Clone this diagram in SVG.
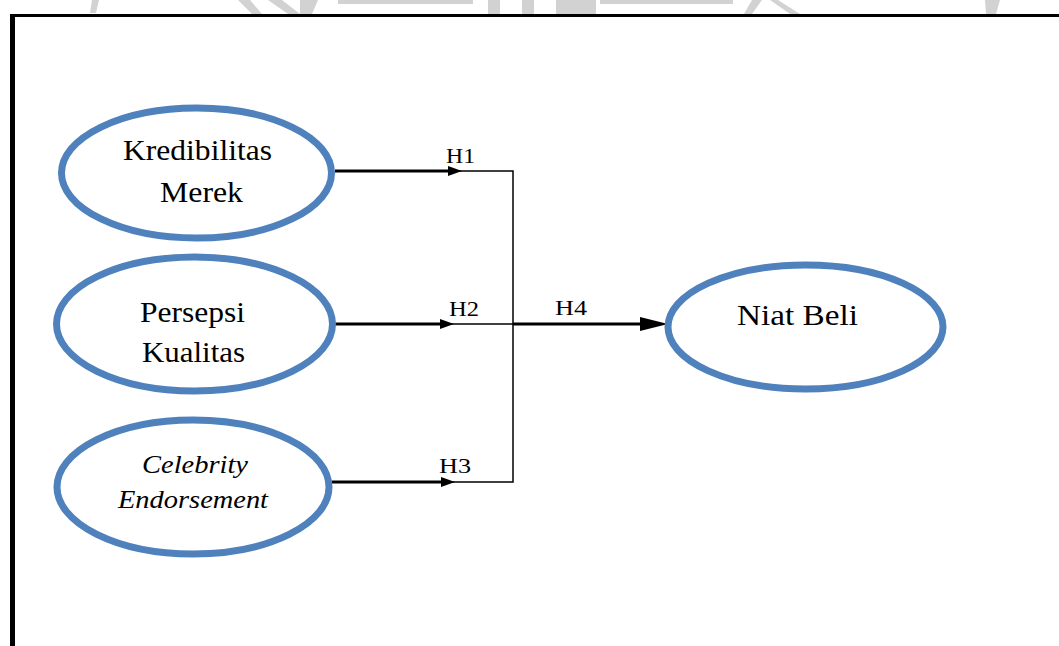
<svg xmlns="http://www.w3.org/2000/svg" width="1059" height="646" viewBox="0 0 1059 646">
  <style>
    .node ellipse { fill: #ffffff; stroke: #4f81bd; stroke-width: 7; }
    .lbl { font-family: "Liberation Serif", "Times New Roman", serif; fill: #000000; text-anchor: middle; }
    .hl { font-family: "Liberation Serif", "Times New Roman", serif; font-size: 22px; fill: #000000; }
    .thick { stroke: #000000; stroke-width: 3; fill: none; }
    .thin { stroke: #000000; stroke-width: 1.5; fill: none; }
    .wm { fill: #d2d2d2; }
  </style>
  <defs>
    <marker id="arr" viewBox="0 0 14 10" refX="0" refY="5" markerWidth="14" markerHeight="10" markerUnits="userSpaceOnUse" orient="auto">
      <path d="M0,0 L14,5 L0,10 z" fill="#000000"/>
    </marker>
    <marker id="arrBig" viewBox="0 0 28 14" refX="0" refY="7" markerWidth="28" markerHeight="14" markerUnits="userSpaceOnUse" orient="auto">
      <path d="M0,0 L28,7 L0,14 z" fill="#000000"/>
    </marker>
  </defs>
  <rect x="0" y="0" width="1059" height="646" fill="#ffffff"/>

  <!-- faint watermark fragments at the top -->
  <g id="watermark">
    <path class="wm" d="M92,0 L99,0 L96,13 L90,13 z"/>
    <path class="wm" d="M238,0 L250,0 L262,14 L252,14 z"/>
    <path class="wm" d="M268,0 L282,0 L300,14 L288,14 z"/>
    <path class="wm" d="M300,0 L318,0 L312,14 L300,14 z"/>
    <rect class="wm" x="338" y="0" width="135" height="4"/>
    <rect class="wm" x="488" y="0" width="12" height="14"/>
    <rect class="wm" x="522" y="0" width="12" height="14"/>
    <rect class="wm" x="556" y="0" width="40" height="14"/>
    <rect class="wm" x="600" y="0" width="133" height="4"/>
    <path class="wm" d="M752,0 L762,0 L752,14 L744,14 z"/>
    <path class="wm" d="M770,0 L778,0 L800,14 L790,14 z"/>
    <path class="wm" d="M985,0 L1000,0 L996,14 L986,14 z"/>
  </g>

  <!-- frame -->
  <g id="frame">
    <line x1="12.5" y1="15.5" x2="12.5" y2="646" stroke="#000000" stroke-width="5"/>
    <line x1="10" y1="15.5" x2="1059" y2="15.5" stroke="#000000" stroke-width="3"/>
  </g>

  <g id="connectors">
    <line class="thick" x1="335" y1="171" x2="448" y2="171" marker-end="url(#arr)"/>
    <polyline class="thin" points="448,171 513,171 513,482 448,482"/>
    <line class="thick" x1="335" y1="324" x2="440" y2="324" marker-end="url(#arr)"/>
    <line class="thin" x1="440" y1="324" x2="513" y2="324"/>
    <line class="thick" x1="332" y1="482" x2="441" y2="482" marker-end="url(#arr)"/>
    <line class="thick" x1="513" y1="324" x2="640" y2="324" marker-end="url(#arrBig)"/>
    <text class="hl" x="446" y="163" textLength="29" lengthAdjust="spacingAndGlyphs">H1</text>
    <text class="hl" x="449" y="316" textLength="30" lengthAdjust="spacingAndGlyphs">H2</text>
    <text class="hl" x="439" y="473" textLength="32" lengthAdjust="spacingAndGlyphs">H3</text>
    <text class="hl" x="555" y="315" textLength="32" lengthAdjust="spacingAndGlyphs">H4</text>
  </g>

  <g id="node-kredibilitas" class="node">
    <ellipse cx="196.5" cy="173" rx="135" ry="65"/>
    <text class="lbl" font-family="Liberation Serif, serif" x="197.5" y="160" font-size="29" textLength="149" lengthAdjust="spacingAndGlyphs">Kredibilitas</text>
    <text class="lbl" font-family="Liberation Serif, serif" x="201.5" y="202" font-size="29" textLength="83" lengthAdjust="spacingAndGlyphs">Merek</text>
  </g>

  <g id="node-persepsi" class="node">
    <ellipse cx="194.5" cy="324" rx="138" ry="67"/>
    <text class="lbl" font-family="Liberation Serif, serif" x="192.5" y="322" font-size="30" textLength="105" lengthAdjust="spacingAndGlyphs">Persepsi</text>
    <text class="lbl" font-family="Liberation Serif, serif" x="193.5" y="362" font-size="30" textLength="103" lengthAdjust="spacingAndGlyphs">Kualitas</text>
  </g>

  <g id="node-celebrity" class="node">
    <ellipse cx="193" cy="487" rx="136" ry="67"/>
    <text class="lbl" font-family="Liberation Serif, serif" x="195" y="473" font-size="25" font-style="italic" textLength="106" lengthAdjust="spacingAndGlyphs">Celebrity</text>
    <text class="lbl" font-family="Liberation Serif, serif" x="193" y="508" font-size="25" font-style="italic" textLength="150" lengthAdjust="spacingAndGlyphs">Endorsement</text>
  </g>

  <g id="node-niat" class="node">
    <ellipse cx="805.5" cy="327" rx="137.5" ry="62"/>
    <text class="lbl" font-family="Liberation Serif, serif" x="797.5" y="325" font-size="29" textLength="121" lengthAdjust="spacingAndGlyphs">Niat Beli</text>
  </g>
</svg>
